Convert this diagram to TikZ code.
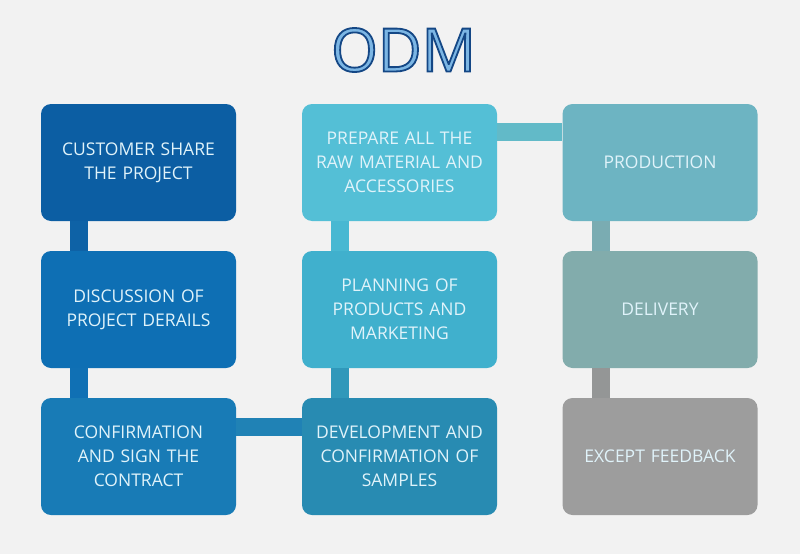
\documentclass[tikz,border=0pt]{standalone}
\usepackage{fontspec}
\setmainfont{Open Sans}
\newfontfamily\ttlfont[FakeBold=3]{Open Sans}
\definecolor{bg}{RGB}{242,242,242}
\definecolor{cA}{RGB}{12,94,163}
\definecolor{cB}{RGB}{14,111,180}
\definecolor{cC}{RGB}{24,123,182}
\definecolor{cD}{RGB}{40,139,178}
\definecolor{cE}{RGB}{64,176,205}
\definecolor{cF}{RGB}{84,191,214}
\definecolor{cG}{RGB}{109,180,194}
\definecolor{cH}{RGB}{130,172,172}
\definecolor{cI}{RGB}{157,157,157}
\definecolor{kA}{RGB}{14,98,166}
\definecolor{kB}{RGB}{16,112,180}
\definecolor{kC}{RGB}{32,130,181}
\definecolor{kD}{RGB}{48,152,186}
\definecolor{kE}{RGB}{72,184,210}
\definecolor{kF}{RGB}{98,186,200}
\definecolor{kG}{RGB}{122,172,178}
\definecolor{kH}{RGB}{148,150,150}
\definecolor{txt}{RGB}{224,243,250}
\tikzset{
  stepbox/.style={rectangle, rounded corners=10pt, minimum width=195pt, minimum height=117pt,
    inner sep=0pt, text=txt, align=center, font=\fontsize{17.5}{24}\selectfont, text width=192pt},
  link/.style={line width=18pt}
}
\begin{document}
\begin{tikzpicture}[x=1pt,y=-1pt]
\fill[bg] (0,0) rectangle (800,554);
\useasboundingbox (0,0) rectangle (800,554);
\node[font=\ttlfont\fontsize{60}{60}\selectfont] (title) at (403.5,50) {\special{pdf:bcolor [0.486 0.714 0.894] [0.08 0.28 0.52]}ODM\special{pdf:ecolor}};
\node[stepbox, fill=cA] (s1) at (138.5,162.5) {CUSTOMER SHARE\\THE PROJECT};
\node[stepbox, fill=cB] (s2) at (138.5,309.5) {DISCUSSION OF\\PROJECT DERAILS};
\node[stepbox, fill=cC] (s3) at (138.5,456.5) {CONFIRMATION\\AND SIGN THE\\CONTRACT};
\node[stepbox, fill=cD] (s4) at (399.5,456.5) {DEVELOPMENT AND\\CONFIRMATION OF\\SAMPLES};
\node[stepbox, fill=cE] (s5) at (399.5,309.5) {PLANNING OF\\PRODUCTS AND\\MARKETING};
\node[stepbox, fill=cF] (s6) at (399.5,162.5) {PREPARE ALL THE\\RAW MATERIAL AND\\ACCESSORIES};
\node[stepbox, fill=cG] (s7) at (660,162.5) {PRODUCTION};
\node[stepbox, fill=cH] (s8) at (660,309.5) {DELIVERY};
\node[stepbox, fill=cI] (s9) at (660,456.5) {EXCEPT FEEDBACK};
\draw[link, kA] ([xshift=38pt]s1.south west) -- ([xshift=38pt]s2.north west);
\draw[link, kB] ([xshift=38pt]s2.south west) -- ([xshift=38pt]s3.north west);
\draw[link, kC] ([yshift=-29pt]s3.north east) -- ([yshift=-29pt]s4.north west);
\draw[link, kD] ([xshift=38pt]s4.north west) -- ([xshift=38pt]s5.south west);
\draw[link, kE] ([xshift=38pt]s5.north west) -- ([xshift=38pt]s6.south west);
\draw[link, kF] ([yshift=-28pt]s6.north east) -- ([yshift=-28pt]s7.north west);
\draw[link, kG] ([xshift=39pt]s7.south west) -- ([xshift=39pt]s8.north west);
\draw[link, kH] ([xshift=39pt]s8.south west) -- ([xshift=39pt]s9.north west);
\end{tikzpicture}
\end{document}
